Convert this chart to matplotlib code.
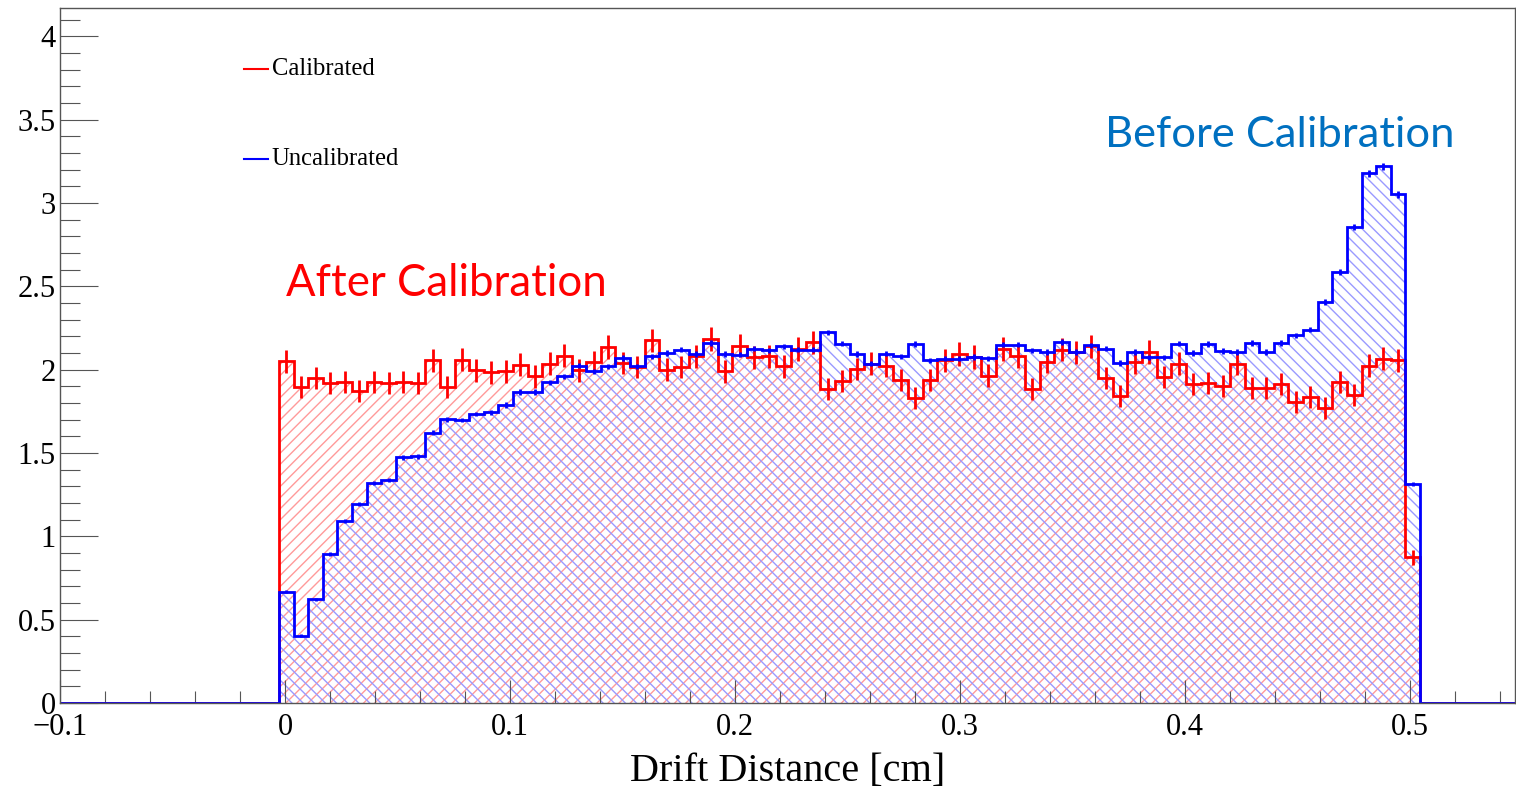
import numpy as np
import matplotlib
matplotlib.use("Agg")
import matplotlib.pyplot as plt
from matplotlib.ticker import MultipleLocator, FuncFormatter

# 78 bins of drift distance, normalised counts
bin_lo, bin_hi, n_bins = -0.0027, 0.5044, 78

calibrated = [
    2.050, 1.894, 1.950, 1.920, 1.928, 1.870, 1.924, 1.922, 1.926, 1.922,
    2.056, 1.894, 2.060, 1.996, 1.984, 1.990, 2.030, 1.960, 2.036, 2.084,
    1.996, 2.046, 2.136, 2.040, 2.016, 2.176, 2.000, 2.016, 2.080, 2.184,
    1.990, 2.144, 2.074, 2.080, 2.020, 2.124, 2.164, 1.886, 1.930, 2.004,
    2.036, 2.024, 1.936, 1.830, 1.940, 2.056, 2.094, 2.076, 1.964, 2.124,
    2.080, 1.886, 2.046, 2.120, 2.104, 2.140, 1.950, 1.844, 2.044, 2.106,
    1.954, 2.036, 1.916, 1.918, 1.902, 2.036, 1.890, 1.890, 1.914, 1.806,
    1.834, 1.770, 1.926, 1.850, 2.024, 2.066, 2.056, 0.875,
]

uncalibrated = [
    0.667, 0.404, 0.623, 0.895, 1.093, 1.193, 1.319, 1.339, 1.473, 1.479,
    1.622, 1.702, 1.698, 1.734, 1.744, 1.788, 1.866, 1.866, 1.924, 1.960,
    2.024, 1.990, 2.020, 2.070, 2.020, 2.080, 2.100, 2.120, 2.094, 2.160,
    2.094, 2.090, 2.126, 2.116, 2.140, 2.120, 2.120, 2.224, 2.156, 2.094,
    2.036, 2.096, 2.080, 2.154, 2.056, 2.066, 2.066, 2.076, 2.068, 2.150,
    2.150, 2.116, 2.106, 2.166, 2.106, 2.146, 2.126, 2.040, 2.106, 2.074,
    2.074, 2.156, 2.100, 2.155, 2.112, 2.106, 2.160, 2.106, 2.160, 2.206,
    2.240, 2.406, 2.586, 2.857, 3.177, 3.221, 3.051, 1.315,
]

# weight per entry used for the Poisson error bars
cal_weight = 0.0023
uncal_weight = 0.000128

x_range = (-0.1, 0.5467)
y_range = (0, 4.17)

edges = np.linspace(bin_lo, bin_hi, n_bins + 1)
centers = 0.5 * (edges[:-1] + edges[1:])
cal = np.array(calibrated)
uncal = np.array(uncalibrated)
cal_err = np.sqrt(cal * cal_weight)
uncal_err = np.sqrt(uncal * uncal_weight)

plt.rcParams['hatch.linewidth'] = 1.0

fig = plt.figure(figsize=(15.16, 7.92), dpi=100)
ax = fig.add_axes([0.0396, 0.1124, 0.9599, 0.8775])


def draw_hist(values, errors, line_color, hatch_color, hatch, label):
    ax.stairs(values, edges, fill=True, facecolor='none', edgecolor=hatch_color,
              hatch=hatch, linewidth=0)
    # ROOT-style outline, running along the baseline outside the filled range
    xs = np.concatenate([[x_range[0]], np.repeat(edges, 2), [x_range[1]]])
    ys = np.concatenate([[0, 0], np.repeat(values, 2), [0, 0]])
    ax.plot(xs, ys, color=line_color, lw=2, solid_joinstyle='miter', label=label)
    ax.errorbar(centers, values, yerr=errors, fmt='none', ecolor=line_color,
                elinewidth=2, capsize=0)


draw_hist(cal, cal_err, 'red', '#ff9a9a', '///', 'Calibrated')
draw_hist(uncal, uncal_err, 'blue', '#9a9aff', '\\\\\\', 'Uncalibrated')

ax.set_xlim(*x_range)
ax.set_ylim(*y_range)

serif = 'Liberation Serif'
ax.xaxis.set_major_locator(MultipleLocator(0.1))
ax.xaxis.set_minor_locator(MultipleLocator(0.02))
ax.yaxis.set_major_locator(MultipleLocator(0.5))
ax.yaxis.set_minor_locator(MultipleLocator(0.1))
fmt = FuncFormatter(lambda v, p: ('%g' % round(v, 3)).replace('-', '\u2212'))
ax.xaxis.set_major_formatter(fmt)
ax.yaxis.set_major_formatter(fmt)

tick_col = '#555555'
ax.tick_params(axis='x', which='major', direction='in', length=16.5, width=0.8,
               color=tick_col, pad=7)
ax.tick_params(axis='x', which='minor', direction='in', length=8.6, width=0.8,
               color=tick_col)
ax.tick_params(axis='y', which='major', direction='in', length=27, width=0.8,
               color=tick_col, pad=3)
ax.tick_params(axis='y', which='minor', direction='in', length=14.4, width=0.8,
               color=tick_col)
for lab in ax.get_xticklabels() + ax.get_yticklabels():
    lab.set_fontfamily(serif)
    lab.set_fontsize(22)

for sp in ax.spines.values():
    sp.set_color(tick_col)
    sp.set_linewidth(1)

ax.set_xlabel('Drift Distance [cm]', fontfamily=serif, fontsize=29, labelpad=8)

# legend entries: short coloured line plus label, no frame
for yl, color, text in [(0.912, 'red', 'Calibrated'), (0.783, 'blue', 'Uncalibrated')]:
    ax.plot([0.1264, 0.1429], [yl, yl], transform=ax.transAxes, color=color, lw=1.5)
    ax.text(0.1456, yl, text, transform=ax.transAxes, fontfamily=serif,
            fontsize=17.7, va='center', ha='left')

ax.text(0.155, 0.604, 'After Calibration', transform=ax.transAxes,
        fontfamily='Lato', fontsize=31.5, color='#ff0000', va='center', ha='left')
ax.text(0.7184, 0.817, 'Before Calibration', transform=ax.transAxes,
        fontfamily='Lato', fontsize=31.3, color='#0070c0', va='center', ha='left')

fig.savefig('out.png', dpi=100)
